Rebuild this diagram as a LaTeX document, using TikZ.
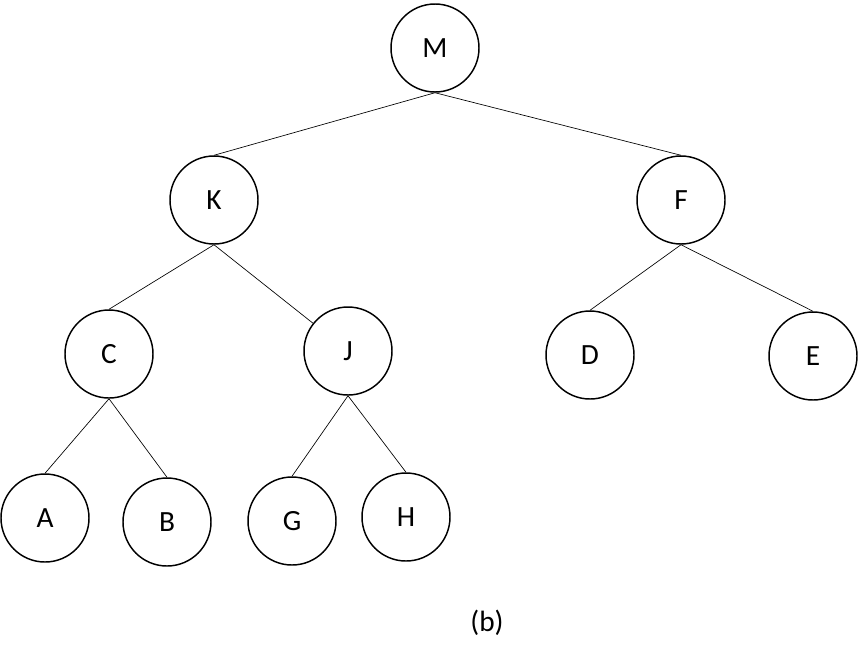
\documentclass[tikz,border=0pt]{standalone}
\usepackage{fontspec}
\setmainfont{Carlito}
\begin{document}
\begin{tikzpicture}[x=0.75pt,y=-0.75pt,font=\fontsize{22}{26}\selectfont,
  vertex/.style={draw,line width=1.1pt,circle,minimum size=66pt,inner sep=0pt},
  edge/.style={line width=0.5pt}]
  \useasboundingbox (0,0) rectangle (859,668);
  \foreach \name/\x/\y in {M/435/48,K/214/200,F/681/200,C/109/354,J/348/351,D/590/355,
    E/813/356,A/45/518,B/167/522,G/292/521,H/406/517} {
    \node[vertex] (\name) at (\x,\y) {\name};
  }
  \draw[edge] (M.south) -- (K.north);
  \draw[edge] (M.south) -- (F.north);
  \draw[edge] (K.south) -- (C.north);
  \draw[edge] (K.south) -- (J);
  \draw[edge] (F.south) -- (D.north);
  \draw[edge] (F.south) -- (E.north);
  \draw[edge] (C.south) -- (A.north);
  \draw[edge] (C.south) -- (B.north);
  \draw[edge] (J.south) -- (G.north);
  \draw[edge] (J.south) -- (H.north);
  \node (caption) at (487,623) {(b)};
\end{tikzpicture}
\end{document}
